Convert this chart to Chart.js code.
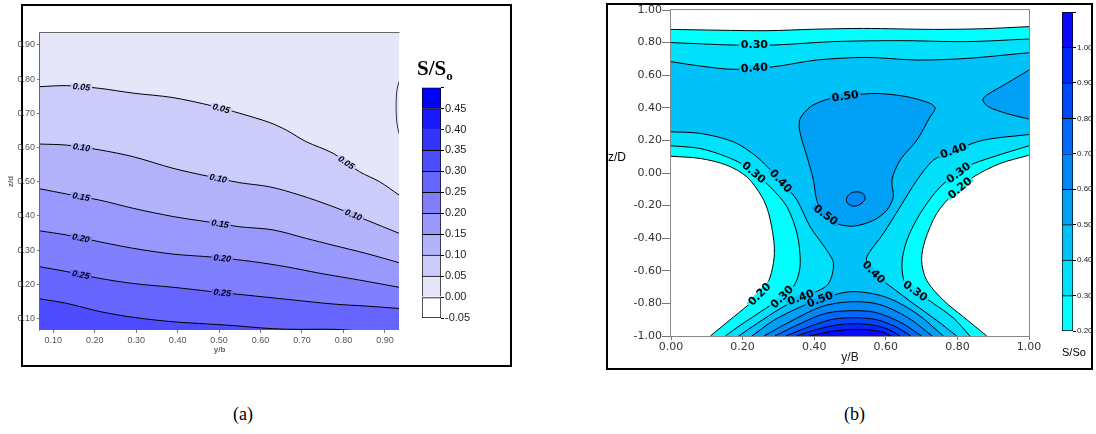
<!DOCTYPE html>
<html>
<head>
<meta charset="utf-8">
<script src="https://cdn.jsdelivr.net/npm/chart.js@4.4.0/dist/chart.umd.min.js"></script>
<style>
  body { margin: 0; background: #fff; width: 1096px; height: 434px; position: relative; overflow: hidden; font-family: "Liberation Sans", Arial, sans-serif; }
  .box { position: absolute; border: 2px solid #000; box-sizing: border-box; }
  canvas { position: absolute; }
  .t { position: absolute; white-space: nowrap; color: #000; }
</style>
</head>
<body>
<div class="box" style="left:21px;top:4px;width:491px;height:363px"></div>
<div class="box" style="left:606px;top:3px;width:487px;height:367px"></div>
<canvas id="chartA" width="520" height="370" style="left:0;top:0"></canvas>
<canvas id="barA" width="70" height="250" style="left:415px;top:80px"></canvas>
<canvas id="chartB" width="496" height="370" style="left:600px;top:0"></canvas>
<canvas id="barB" width="40" height="340" style="left:1055px;top:5px"></canvas>
<div class="t" style="left:417px;top:56px;font:bold 21px 'Liberation Serif',serif">S/S<span style="font-size:13px;position:relative;top:5px">o</span></div>
<div class="t" style="left:608px;top:150px;font:12px 'Liberation Sans',Arial,sans-serif">z/D</div>
<div class="t" style="left:1062px;top:346px;font:11px 'Liberation Sans',Arial,sans-serif">S/So</div>
<div class="t" style="left:233px;top:404px;font:18px 'Liberation Serif',serif">(a)</div>
<div class="t" style="left:844px;top:404px;font:18px 'Liberation Serif',serif">(b)</div>
<script>
// ---------- panel (a): contour lines of S/So, [y/b, z/d] ----------
var a05 = [[0.068,0.778],[0.132,0.781],[0.212,0.773],[0.293,0.759],[0.389,0.746],[0.486,0.721],[0.55,0.70],[0.622,0.673],[0.662,0.651],[0.71,0.617],[0.775,0.583],[0.839,0.529],[0.887,0.50],[0.934,0.461]];
var a10 = [[0.068,0.610],[0.132,0.607],[0.212,0.593],[0.293,0.573],[0.389,0.539],[0.469,0.517],[0.55,0.497],[0.622,0.485],[0.694,0.461],[0.775,0.427],[0.855,0.388],[0.934,0.349]];
var a15 = [[0.068,0.479],[0.132,0.464],[0.212,0.446],[0.293,0.422],[0.389,0.398],[0.486,0.380],[0.55,0.368],[0.63,0.359],[0.71,0.334],[0.775,0.314],[0.855,0.290],[0.934,0.263]];
var a20 = [[0.068,0.356],[0.132,0.344],[0.212,0.324],[0.293,0.305],[0.389,0.288],[0.486,0.279],[0.582,0.266],[0.662,0.251],[0.743,0.232],[0.839,0.212],[0.934,0.191]];
var a25 = [[0.068,0.251],[0.132,0.237],[0.212,0.217],[0.293,0.202],[0.389,0.191],[0.486,0.178],[0.582,0.166],[0.678,0.154],[0.775,0.142],[0.855,0.136],[0.934,0.129]];
var a30 = [[0.068,0.157],[0.132,0.144],[0.212,0.120],[0.293,0.103],[0.389,0.090],[0.453,0.085],[0.534,0.079],[0.614,0.071],[0.678,0.068],[0.775,0.068],[0.84,0.063]];
var aRim = [[0.934,0.793],[0.929,0.768],[0.927,0.72],[0.929,0.671],[0.934,0.641]];

// colour bar (a)
var aLevels = [-0.05, 0, 0.05, 0.10, 0.15, 0.20, 0.25, 0.30, 0.35, 0.40, 0.45, 0.50];
var aColors = ['#ffffff','#e6e6fa','#ccccfb','#b3b3fc','#9999fd','#8080fe','#6666ff','#4d4dff','#3333ff','#1a1aff','#0000ff'];

// ---------- panel (b): contour lines of S/So, [y/B, z/D] ----------
var top20 = [[0,0.881],[0.134,0.876],[0.268,0.873],[0.40,0.882],[0.538,0.887],[0.733,0.881],[0.87,0.885],[1,0.898]];
var top30 = [[0,0.80],[0.175,0.785],[0.287,0.785],[0.454,0.806],[0.64,0.812],[0.826,0.806],[1,0.822]];
var top40 = [[0,0.683],[0.082,0.656],[0.175,0.636],[0.287,0.652],[0.407,0.693],[0.547,0.709],[0.687,0.693],[0.826,0.703],[1,0.738]];
var left20 = [[0,0.103],[0.082,0.089],[0.156,0.048],[0.212,-0.024],[0.254,-0.146],[0.273,-0.249],[0.287,-0.412],[0.288,-0.52],[0.277,-0.638],[0.258,-0.72],[0.231,-0.781],[0.175,-0.883],[0.11,-1]];
var right20 = [[1,0.109],[0.919,0.058],[0.845,-0.024],[0.789,-0.126],[0.742,-0.249],[0.71,-0.412],[0.70,-0.535],[0.714,-0.658],[0.761,-0.781],[0.817,-0.883],[0.882,-1]];
var left30 = [[0,0.167],[0.082,0.150],[0.156,0.099],[0.212,0.038],[0.277,-0.085],[0.324,-0.208],[0.352,-0.372],[0.361,-0.556],[0.347,-0.679],[0.31,-0.761],[0.249,-0.853],[0.193,-0.935],[0.152,-1]];
var right30 = [[1,0.167],[0.90,0.099],[0.826,0.038],[0.752,-0.085],[0.696,-0.249],[0.659,-0.412],[0.645,-0.556],[0.654,-0.679],[0.682,-0.724],[0.733,-0.80],[0.789,-0.89],[0.835,-1]];
var left40 = [[0,0.253],[0.082,0.243],[0.175,0.191],[0.24,0.099],[0.287,-0.003],[0.319,-0.08],[0.352,-0.167],[0.389,-0.331],[0.435,-0.474],[0.454,-0.556],[0.44,-0.679],[0.398,-0.736],[0.361,-0.765],[0.305,-0.832],[0.24,-0.924],[0.189,-1]];
var right40 = [[1,0.236],[0.873,0.202],[0.789,0.136],[0.733,0.079],[0.687,-0.044],[0.64,-0.208],[0.593,-0.372],[0.547,-0.515],[0.551,-0.576],[0.579,-0.638],[0.621,-0.709],[0.677,-0.801],[0.742,-0.904],[0.798,-1]];
var mid50 = [[0.445,0.458],[0.51,0.478],[0.575,0.488],[0.659,0.468],[0.724,0.427],[0.738,0.396],[0.724,0.345],[0.687,0.202],[0.64,0.079],[0.617,-0.044],[0.621,-0.146],[0.603,-0.228],[0.566,-0.290],[0.51,-0.326],[0.463,-0.310],[0.426,-0.249],[0.407,-0.167],[0.398,-0.044],[0.38,0.099],[0.359,0.263],[0.361,0.335],[0.389,0.406],[0.417,0.437],[0.445,0.458]];
var edge50 = [[1,0.632],[0.938,0.550],[0.882,0.478],[0.871,0.447],[0.887,0.406],[0.938,0.365],[1,0.331]];
var dot60 = [[0.494,-0.14],[0.505,-0.12],[0.525,-0.116],[0.538,-0.13],[0.542,-0.16],[0.53,-0.19],[0.51,-0.204],[0.493,-0.185],[0.49,-0.16],[0.494,-0.14]];
var arc50 = [[0.226,-1],[0.287,-0.904],[0.361,-0.822],[0.417,-0.775],[0.491,-0.73],[0.547,-0.734],[0.612,-0.771],[0.687,-0.863],[0.761,-1]];
var arc60 = [[0.26,-1],[0.33,-0.915],[0.42,-0.82],[0.5,-0.79],[0.58,-0.805],[0.66,-0.885],[0.73,-1]];
var arc70 = [[0.29,-1],[0.36,-0.925],[0.43,-0.862],[0.5,-0.845],[0.57,-0.855],[0.64,-0.915],[0.70,-1]];
var arc80 = [[0.32,-1],[0.39,-0.94],[0.45,-0.898],[0.51,-0.888],[0.57,-0.898],[0.625,-0.94],[0.67,-1]];
var arc90 = [[0.35,-1],[0.41,-0.958],[0.47,-0.93],[0.52,-0.925],[0.57,-0.935],[0.61,-0.962],[0.64,-1]];
var arc100 = [[0.385,-1],[0.44,-0.975],[0.5,-0.96],[0.55,-0.962],[0.595,-0.978],[0.615,-1]];

// colour bar (b)
var bLevels = [0.2, 0.3, 0.4, 0.5, 0.6, 0.7, 0.8, 0.9, 1.0, 1.1];
var bColors = ['#00ffff','#00e0fa','#00c2f8','#00a0f5','#0088f8','#0068fa','#0048fc','#0028fe','#0808ff'];

var pts = function (arr) { return arr.map(function (p) { return {x: p[0], y: p[1]}; }); };
var rev = function (arr) { return arr.slice().reverse(); };
// join contour pieces into one outline; ends doubled so the spline keeps sharp corners
function ring() {
  var out = [];
  for (var i = 0; i < arguments.length; i++) {
    var part = arguments[i];
    out.push(part[0]);
    out = out.concat(part);
    out.push(part[part.length - 1]);
  }
  return out;
}

Chart.defaults.font.family = "'Liberation Sans', Arial, sans-serif";
Chart.defaults.animation = false;
Chart.defaults.events = [];
Chart.defaults.plugins.legend.display = false;
Chart.defaults.plugins.tooltip.enabled = false;
Chart.defaults.elements.point.radius = 0;

// labels written along contour lines, rotated to the line
var contourLabels = {
  id: 'contourLabels',
  afterDatasetsDraw: function (chart, args, opts) {
    var ctx = chart.ctx, xs = chart.scales.x, ys = chart.scales.y;
    ctx.save();
    ctx.font = opts.font;
    ctx.textAlign = 'center';
    ctx.textBaseline = 'middle';
    opts.items.forEach(function (lab) {
      var px = xs.getPixelForValue(lab.x), py = ys.getPixelForValue(lab.y);
      var best = null;
      for (var i = 0; i < lab.line.length - 1; i++) {
        var ax = xs.getPixelForValue(lab.line[i][0]), ay = ys.getPixelForValue(lab.line[i][1]);
        var bx = xs.getPixelForValue(lab.line[i + 1][0]), by = ys.getPixelForValue(lab.line[i + 1][1]);
        var dx = bx - ax, dy = by - ay, L = dx * dx + dy * dy || 1;
        var t = Math.max(0, Math.min(1, ((px - ax) * dx + (py - ay) * dy) / L));
        var qx = ax + t * dx, qy = ay + t * dy;
        var d = (px - qx) * (px - qx) + (py - qy) * (py - qy);
        if (!best || d < best.d) best = {d: d, qx: qx, qy: qy, a: Math.atan2(dy, dx)};
      }
      var a = best.a;
      if (a > Math.PI / 2) a -= Math.PI;
      if (a < -Math.PI / 2) a += Math.PI;
      ctx.save();
      ctx.translate(best.qx, best.qy);
      ctx.rotate(a);
      var w = ctx.measureText(lab.text).width;
      ctx.fillStyle = lab.bg;
      ctx.fillRect(-w / 2 - 2, -3, w + 4, 6);
      ctx.fillStyle = '#000';
      ctx.fillText(lab.text, 0, 0.5);
      ctx.restore();
    });
    ctx.restore();
  }
};

// plot-area background and frame
var areaFill = {
  id: 'areaFill',
  beforeDatasetsDraw: function (chart, args, opts) {
    var c = chart.chartArea, ctx = chart.ctx;
    ctx.save();
    ctx.fillStyle = opts.color;
    ctx.fillRect(c.left, c.top, c.right - c.left, c.bottom - c.top);
    ctx.restore();
  }
};
var frame = {
  id: 'frame',
  afterDatasetsDraw: function (chart, args, opts) {
    var c = chart.chartArea, ctx = chart.ctx;
    var l = Math.round(c.left) - 0.5, r = Math.round(c.right) + 0.5, t = Math.round(c.top) - 0.5, b = Math.round(c.bottom) + 0.5;
    ctx.save();
    ctx.strokeStyle = opts.color;
    ctx.lineWidth = 1;
    ctx.beginPath();
    if (opts.sides.indexOf('t') >= 0) { ctx.moveTo(l, t); ctx.lineTo(r, t); }
    if (opts.sides.indexOf('r') >= 0) { ctx.moveTo(r, t); ctx.lineTo(r, b); }
    if (opts.sides.indexOf('b') >= 0) { ctx.moveTo(l, b); ctx.lineTo(r, b); }
    if (opts.sides.indexOf('l') >= 0) { ctx.moveTo(l, t); ctx.lineTo(l, b); }
    ctx.stroke();
    ctx.restore();
  }
};

function fixed2(v) { return Number(v).toFixed(2); }

// ---------------- chart (a) ----------------
var aLines = [a05, a10, a15, a20, a25, a30];
var dsA = aLines.map(function (ln, i) {
  return {data: pts(ln), fill: 'start', backgroundColor: aColors[i + 2], borderColor: '#000', borderWidth: 1, tension: 0.3, order: 10 - i};
});
dsA.push({data: pts(aRim), fill: false, borderColor: '#333', borderWidth: 1, tension: 0.3, order: 0});

var tickA = {font: {size: 9}, color: '#555', padding: 2, stepSize: 0.1, includeBounds: false, autoSkip: false, maxRotation: 0, callback: fixed2};
new Chart(document.getElementById('chartA'), {
  type: 'line',
  data: {datasets: dsA},
  plugins: [areaFill, frame, contourLabels],
  options: {
    responsive: false,
    layout: {padding: {left: 0, top: 33, right: 121, bottom: 0}},
    scales: {
      x: {type: 'linear', min: 0.068, max: 0.934, ticks: tickA,
          grid: {drawOnChartArea: false, tickLength: 3, color: '#777'}, border: {display: false},
          title: {display: true, text: 'y/b', font: {size: 8, weight: 'bold'}, padding: {top: 0, bottom: 15}},
          afterFit: function (s) { s.height = 40; }},
      y: {type: 'linear', min: 0.066, max: 0.935, ticks: tickA,
          grid: {drawOnChartArea: false, tickLength: 3, color: '#777'}, border: {display: false},
          title: {display: true, text: 'z/d', font: {size: 8, weight: 'bold'}, padding: {top: 6, bottom: 0}},
          afterFit: function (s) { s.width = 40; }}
    },
    plugins: {
      areaFill: {color: aColors[1]},
      frame: {color: '#666', sides: 'tl'},
      contourLabels: {
        font: 'italic bold 9px "Liberation Sans", Arial, sans-serif',
        items: [
          {line: a05, text: '0.05', x: 0.168, y: 0.78, bg: aColors[2]},
          {line: a05, text: '0.05', x: 0.506, y: 0.718, bg: aColors[2]},
          {line: a05, text: '0.05', x: 0.807, y: 0.556, bg: aColors[2]},
          {line: a10, text: '0.10', x: 0.168, y: 0.60, bg: aColors[3]},
          {line: a10, text: '0.10', x: 0.498, y: 0.51, bg: aColors[3]},
          {line: a10, text: '0.10', x: 0.823, y: 0.40, bg: aColors[3]},
          {line: a15, text: '0.15', x: 0.168, y: 0.461, bg: aColors[4]},
          {line: a15, text: '0.15', x: 0.503, y: 0.381, bg: aColors[4]},
          {line: a20, text: '0.20', x: 0.168, y: 0.341, bg: aColors[5]},
          {line: a20, text: '0.20', x: 0.508, y: 0.279, bg: aColors[5]},
          {line: a25, text: '0.25', x: 0.168, y: 0.237, bg: aColors[6]},
          {line: a25, text: '0.25', x: 0.508, y: 0.18, bg: aColors[6]}
        ]
      }
    }
  }
});

// ---------------- colour bars ----------------
function colorBar(id, levels, colors, fontSize, pad, axisWidth) {
  var top = levels[levels.length - 1];
  new Chart(document.getElementById(id), {
    type: 'bar',
    data: {
      labels: [''],
      datasets: colors.map(function (c, i) {
        return {data: [[levels[i], levels[i + 1]]], backgroundColor: c, borderColor: '#000',
                borderWidth: {top: 1, left: 1, right: 1, bottom: i === 0 ? 1 : 0}, borderSkipped: false,
                grouped: false, barPercentage: 1, categoryPercentage: 1};
      })
    },
    options: {
      responsive: false,
      layout: {padding: pad},
      scales: {
        x: {display: false},
        y: {position: 'right', min: levels[0], max: top,
            ticks: {stepSize: levels[1] - levels[0], font: {size: fontSize}, color: '#222', padding: 1, autoSkip: false,
                    callback: function (v) { return Math.abs(v - top) < 1e-6 ? '' : fixed2(v); }},
            grid: {drawOnChartArea: false, tickLength: 3, color: '#000'}, border: {display: false},
            afterFit: function (s) { s.width = axisWidth; }}
      }
    }
  });
}
colorBar('barA', aLevels, aColors, 11, {left: 7, top: 4, right: 0, bottom: 12}, 44);
colorBar('barB', bLevels, bColors, 8, {left: 7, top: 7, right: 0, bottom: 14}, 22);

// ---------------- chart (b) ----------------
function band(points, color, order) {
  return {data: pts(points), fill: 'shape', backgroundColor: color, borderColor: 'rgba(0,0,0,0)', borderWidth: 0, tension: 0.3, order: order};
}
function contour(points) {
  return {data: pts(points), fill: false, borderColor: '#000', borderWidth: 1, tension: 0.3, order: 0};
}
var dsB = [
  band(ring(top20, right20, rev(left20)), bColors[0], 30),
  band(ring(top30, right30, rev(left30)), bColors[1], 29),
  band(ring(top40, right40, rev(left40)), bColors[2], 28),
  band(mid50, bColors[3], 27), band(ring(edge50), bColors[3], 27), band(ring(arc50), bColors[3], 27),
  band(dot60, bColors[4], 26), band(ring(arc60), bColors[4], 26),
  band(ring(arc70), bColors[5], 25), band(ring(arc80), bColors[6], 24),
  band(ring(arc90), bColors[7], 23), band(ring(arc100), bColors[8], 22)
];
[top20, top30, top40, left20, right20, left30, right30, left40, right40, mid50, edge50, dot60,
 arc50, arc60, arc70, arc80, arc90, arc100].forEach(function (ln) { dsB.push(contour(ln)); });

var tickB = {font: {size: 11, family: "'DejaVu Sans', sans-serif"}, color: '#333', stepSize: 0.2, autoSkip: false, maxRotation: 0, callback: fixed2};
new Chart(document.getElementById('chartB'), {
  type: 'line',
  data: {datasets: dsB},
  plugins: [frame, contourLabels],
  options: {
    responsive: false,
    layout: {padding: {left: 0, top: 10, right: 67, bottom: 0}},
    scales: {
      x: {type: 'linear', min: 0, max: 1, ticks: Object.assign({}, tickB, {padding: 1}),
          grid: {drawOnChartArea: false, tickLength: 4, color: '#777'}, border: {display: false},
          title: {display: true, text: 'y/B', font: {size: 12}, color: '#222', padding: {top: 0, bottom: 5}},
          afterFit: function (s) { s.height = 34; }},
      y: {type: 'linear', min: -1, max: 1, ticks: Object.assign({}, tickB, {padding: 0}),
          grid: {drawOnChartArea: false, tickLength: 9, color: '#777'}, border: {display: false},
          afterFit: function (s) { s.width = 71; }}
    },
    plugins: {
      frame: {color: '#888', sides: 'tlbr'},
      contourLabels: {
        font: 'bold 11px "DejaVu Sans", sans-serif',
        items: [
          {line: top30, text: '0.30', x: 0.233, y: 0.779, bg: bColors[1]},
          {line: top40, text: '0.40', x: 0.233, y: 0.642, bg: bColors[2]},
          {line: mid50, text: '0.50', x: 0.487, y: 0.468, bg: bColors[3]},
          {line: left30, text: '0.30', x: 0.233, y: 0.007, bg: bColors[1]},
          {line: left40, text: '0.40', x: 0.319, y: -0.024, bg: bColors[2]},
          {line: mid50, text: '0.50', x: 0.435, y: -0.249, bg: bColors[3]},
          {line: right40, text: '0.40', x: 0.789, y: 0.136, bg: bColors[2]},
          {line: right30, text: '0.30', x: 0.796, y: 0.022, bg: bColors[1]},
          {line: right20, text: '0.20', x: 0.798, y: -0.069, bg: bColors[0]},
          {line: right40, text: '0.40', x: 0.567, y: -0.607, bg: bColors[2]},
          {line: right30, text: '0.30', x: 0.682, y: -0.724, bg: bColors[1]},
          {line: left20, text: '0.20', x: 0.258, y: -0.767, bg: bColors[0]},
          {line: left30, text: '0.30', x: 0.31, y: -0.761, bg: bColors[1]},
          {line: left40, text: '0.40', x: 0.361, y: -0.756, bg: bColors[2]},
          {line: arc50, text: '0.50', x: 0.417, y: -0.781, bg: bColors[3]}
        ]
      }
    }
  }
});
</script>
</body>
</html>
